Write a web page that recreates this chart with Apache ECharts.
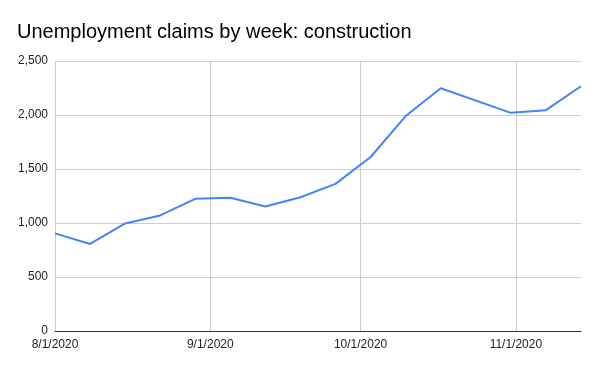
<!DOCTYPE html>
<html>
<head>
<meta charset="utf-8">
<script src="https://cdn.jsdelivr.net/npm/echarts@6/dist/echarts.min.js"></script>
<style>html,body{margin:0;padding:0;background:#fff}#c{width:600px;height:371px}</style>
</head>
<body>
<div id="c"></div>
<script>
const weeks = ['2020-08-01','2020-08-08','2020-08-15','2020-08-22','2020-08-29','2020-09-05','2020-09-12','2020-09-19','2020-09-26','2020-10-03','2020-10-10','2020-10-17','2020-10-31','2020-11-07','2020-11-14'];
const claims = [904, 806, 996, 1070, 1224, 1233, 1153, 1238, 1362, 1611, 1990, 2248, 2020, 2045, 2266];
const xTickDates = ['2020-08-01','2020-09-01','2020-10-01','2020-11-01'];
const xTickLabels = ['8/1/2020','9/1/2020','10/1/2020','11/1/2020'];
const yTicks = [0, 500, 1000, 1500, 2000, 2500];

function ts(s){ const p = s.split('-').map(Number); return Date.UTC(p[0], p[1]-1, p[2]); }
const tickTs = xTickDates.map(ts);
const labelMap = {};
tickTs.forEach((t,i)=>{ labelMap[t] = xTickLabels[i]; });

const chart = echarts.init(document.getElementById('c'), null, {renderer:'canvas'});
chart.setOption({
  animation: false,
  title: {
    text: 'Unemployment claims by week: construction',
    left: 17, top: 22, padding: 0,
    textStyle: {fontFamily: 'Liberation Sans, Arial', fontSize: 20, fontWeight: 'normal', color: '#000'}
  },
  grid: {left: 55, right: 19, top: 61, bottom: 40, containLabel: false},
  xAxis: {
    type: 'value',
    min: ts(weeks[0]),
    max: ts(weeks[weeks.length-1]),
    axisLine: {show: true, lineStyle: {color: '#333', width: 1}},
    axisTick: {show: false, customValues: tickTs},
    axisLabel: {
      customValues: tickTs,
      formatter: v => labelMap[v] || '',
      fontFamily: 'Liberation Sans, Arial', fontSize: 12, color: '#222', margin: 8
    },
    splitLine: {show: true, lineStyle: {color: '#ccc', width: 1}}
  },
  yAxis: {
    type: 'value',
    min: yTicks[0], max: yTicks[yTicks.length-1], interval: 500,
    axisLine: {show: false},
    axisTick: {show: false},
    axisLabel: {
      formatter: v => v.toLocaleString('en-US'),
      fontFamily: 'Liberation Sans, Arial', fontSize: 12, color: '#222', margin: 7
    },
    splitLine: {show: true, lineStyle: {color: '#ccc', width: 1}}
  },
  series: [{
    type: 'line',
    data: weeks.map((w,i)=>[ts(w), claims[i]]),
    showSymbol: false,
    lineStyle: {color: '#4285F4', width: 2},
    itemStyle: {color: '#4285F4'}
  }]
});
</script>
</body>
</html>
